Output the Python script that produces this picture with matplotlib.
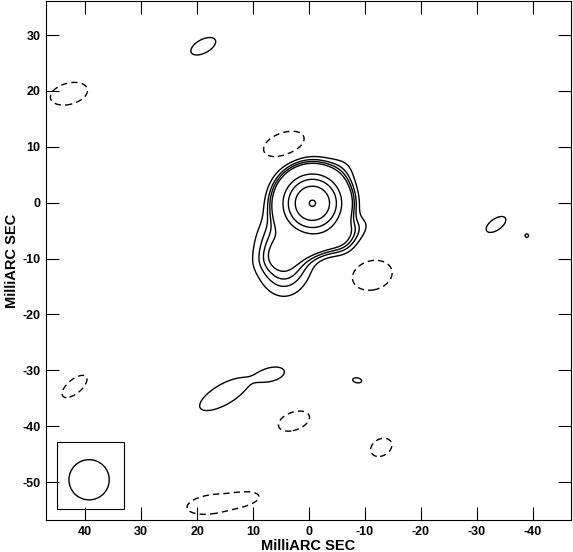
import numpy as np
import matplotlib
matplotlib.use("Agg")
import matplotlib.pyplot as plt
from matplotlib.patches import Rectangle, Ellipse

# MODEL KOMPONEN (mas, mJy/beam)
# tilt = sudut sumbu mayor di layar (derajat, berlawanan jarum jam)
comp_x = [-0.6, 4.5, -1.5, -5.5, -6.0,
          18.9, 42.9, 4.5, -11.3, -33.4, -38.9, -8.6,
          15.2, 6.4, 41.9, 2.7, -12.9, 17.5, 12.0]
comp_y = [-0.1, -9.0, -7.0, -6.5, 6.0,
          28.0, 19.5, 10.5, -13.0, -3.9, -5.9, -31.8,
          -34.3, -30.7, -32.9, -39.1, -43.8, -54.0, -53.1]
comp_flux = [131.0, 3.3, 4.35, 1.5, 0.5,
             1.0, -1.5, -1.5, -1.5, 1.0, 0.65, 0.7,
             1.0, 0.9, -1.5, -1.5, -1.5, -1.5, -1.5]
comp_major = [2.55, 4.2, 4.5, 1.8, 2.0,
              2.4, 2.51, 2.8, 2.66, 2.0, 0.8, 1.45,
              4.85, 2.1, 2.0, 2.14, 1.48, 3.2, 2.2]
comp_minor = [2.55, 2.9, 1.5, 1.8, 2.0,
              1.2, 1.40, 1.48, 1.92, 1.0, 0.8, 0.8,
              1.8, 1.1, 0.92, 1.18, 1.1, 1.25, 0.85]
comp_tilt = [0, 90, 20, 0, 0,
             28, 15, 20, 15, 35, 0, -10,
             30, 15, 40, 20, 30, 8, 10]

levels = [-0.6, 0.6, 1.2, 1.8, 2.6, 16, 32, 64, 128]

# beam
beam_x, beam_y, beam_size = 39.3, -49.6, 7.2
box_x0, box_x1 = 33.0, 45.0
box_y0, box_y1 = -54.8, -42.9

x_ticks = [40, 30, 20, 10, 0, -10, -20, -30, -40]
y_ticks = [30, 20, 10, 0, -10, -20, -30, -40, -50]
x_lim = (47.0, -46.8)
y_lim = (-56.8, 36.1)


def gauss2d(X, Y, flux, x0, y0, s_maj, s_min, tilt):
    t = np.deg2rad(tilt)
    dx = X - x0
    dy = Y - y0
    # sumbu x dibalik, jadi arah layar ke kanan = -x
    pu = -dx * np.cos(t) + dy * np.sin(t)
    pv = dx * np.sin(t) + dy * np.cos(t)
    return flux * np.exp(-0.5 * ((pu / s_maj) ** 2 + (pv / s_min) ** 2))


xs = np.linspace(-47.5, 47.5, 951)
ys = np.linspace(-57.5, 36.5, 941)
X, Y = np.meshgrid(xs, ys)
img = np.zeros_like(X)
for i in range(len(comp_x)):
    img += gauss2d(X, Y, comp_flux[i], comp_x[i], comp_y[i],
                   comp_major[i], comp_minor[i], comp_tilt[i])

plt.rcParams["axes.unicode_minus"] = False
plt.rcParams["font.family"] = ["Liberation Sans", "DejaVu Sans"]

fig = plt.figure(figsize=(5.73, 5.52), dpi=100)
ax = fig.add_axes([46 / 573, 32 / 552, 525 / 573, 519 / 552])

styles = ["solid" if lv > 0 else (0, (4.5, 3.0)) for lv in levels]
ax.contour(X, Y, img, levels=levels, colors="k", linewidths=1.0,
           linestyles=styles)

ax.add_patch(Rectangle((box_x0, box_y0), box_x1 - box_x0, box_y1 - box_y0,
                       fill=False, edgecolor="k", linewidth=0.8))
ax.add_patch(Ellipse((beam_x, beam_y), beam_size, beam_size,
                     fill=False, edgecolor="k", linewidth=1.0))

ax.set_xlim(*x_lim)
ax.set_ylim(*y_lim)
ax.set_xticks(x_ticks)
ax.set_yticks(y_ticks)
ax.tick_params(direction="in", length=9.5, width=0.8, top=True, right=True,
               labelsize=9, pad=4)
for lab in ax.get_xticklabels() + ax.get_yticklabels():
    lab.set_fontweight("bold")
for sp in ax.spines.values():
    sp.set_linewidth(0.8)

ax.set_xlabel("MilliARC SEC", fontsize=10.5, fontweight="bold", labelpad=1)
ax.set_ylabel("MilliARC SEC", fontsize=10.5, fontweight="bold", labelpad=2)

plt.savefig("out.png", dpi=100)
